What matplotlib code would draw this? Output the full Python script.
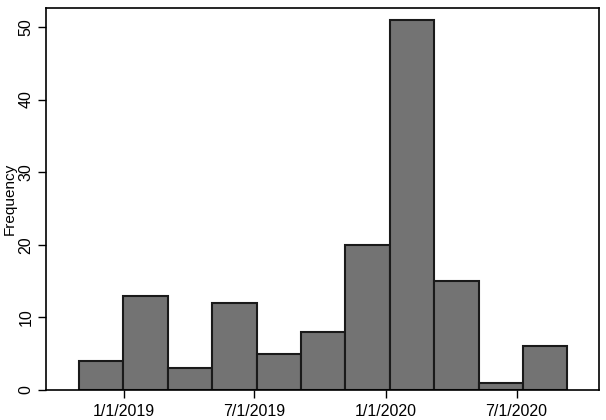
import matplotlib
matplotlib.use("Agg")
import matplotlib.pyplot as plt
import matplotlib.dates as mdates
from datetime import datetime, timedelta

# histogram bins (start date, width in days) and counts per bin
bin_start = datetime(2018, 10, 30)
bin_width = 61.9
counts = [4, 13, 3, 12, 5, 8, 20, 51, 15, 1, 6]

tick_dates = [datetime(2019, 1, 1), datetime(2019, 7, 1),
              datetime(2020, 1, 1), datetime(2020, 7, 1)]
tick_labels = ["1/1/2019", "7/1/2019", "1/1/2020", "7/1/2020"]
y_ticks = [0, 10, 20, 30, 40, 50]

plt.rcParams['font.family'] = ['Liberation Sans', 'DejaVu Sans']

fig = plt.figure(figsize=(6.06, 4.2), dpi=100)
ax = fig.add_axes([46 / 606, 1 - 390 / 420, 553 / 606, 382 / 420])

x0 = mdates.date2num(bin_start)
lefts = [x0 + i * bin_width for i in range(len(counts))]
ax.bar(lefts, counts, width=bin_width, align='edge',
       color='#737373', edgecolor='#1a1a1a', linewidth=1.5)

ax.set_xlim(mdates.date2num(datetime(2018, 9, 14)),
            mdates.date2num(datetime(2020, 10, 24)))
ax.set_ylim(0, 52.6)

ax.set_xticks([mdates.date2num(d) for d in tick_dates])
ax.set_xticklabels(tick_labels)
ax.set_yticks(y_ticks)
ax.set_yticklabels([str(v) for v in y_ticks], rotation=90, va='center')
ax.tick_params(axis='both', direction='out', length=6, width=1,
               labelsize=11.5, colors='black')
ax.tick_params(axis='x', pad=4)
ax.tick_params(axis='y', pad=3)

ax.set_ylabel('Frequency', fontsize=11)
ax.yaxis.set_label_coords(-0.052, 0.5)

for s in ax.spines.values():
    s.set_linewidth(1.2)
    s.set_color('black')

fig.savefig('out.png', dpi=100)
